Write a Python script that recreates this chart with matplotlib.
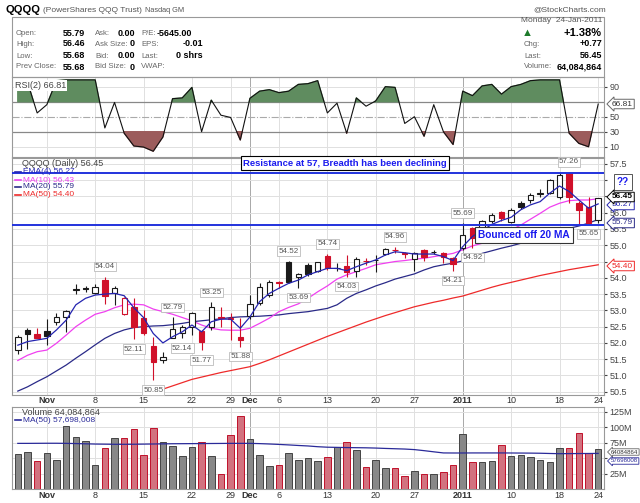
import matplotlib.pyplot as plt
import numpy as np

plt.rcParams['font.family'] = ['Liberation Sans', 'DejaVu Sans']

W, H = 640, 503


def fx(px):
    return px / W


def fy(py):
    return 1 - py / H


# ---- QQQQ daily, 27-Oct-2010 .. 24-Jan-2011 (61 sessions) ----
opens = [51.78, 52.40, 52.27, 52.37, 52.65, 52.79, 53.64, 53.70, 53.52, 53.93,
         53.52, 52.88, 53.11, 52.78, 51.92, 51.46, 52.16, 52.31, 52.50, 52.37,
         52.50, 52.80, 52.75, 52.17, 52.83, 53.22, 53.47, 53.86, 54.50, 54.01,
         54.40, 54.22, 54.67, 54.30, 54.36, 54.21, 54.52, 54.56, 54.73, 54.86,
         54.75, 54.58, 54.86, 54.80, 54.75, 54.60, 54.91, 55.52, 55.42, 55.73,
         56.01, 55.70, 56.31, 56.39, 56.58, 56.60, 56.49, 57.21, 56.31, 56.19,
         55.79]
highs = [52.25, 52.45, 52.47, 52.73, 52.91, 53.00, 53.80, 53.75, 53.80, 54.04,
         53.75, 53.42, 53.37, 53.01, 52.19, 51.73, 52.79, 52.55, 52.96, 52.40,
         53.25, 53.11, 52.91, 52.76, 53.47, 53.83, 53.93, 53.91, 54.52, 54.14,
         54.45, 54.50, 54.74, 54.45, 54.70, 54.65, 54.60, 54.70, 54.92, 54.96,
         54.80, 54.80, 54.90, 54.85, 54.80, 54.65, 55.69, 55.57, 55.78, 55.98,
         56.05, 56.15, 56.35, 56.60, 56.72, 57.03, 57.21, 57.26, 56.35, 56.48,
         56.46]
lows = [51.65, 51.81, 52.14, 51.94, 52.55, 52.34, 53.50, 53.55, 53.50, 53.19,
        53.16, 52.86, 52.11, 52.25, 50.85, 51.37, 52.16, 52.14, 52.24, 51.77,
        52.40, 52.50, 52.09, 51.88, 52.73, 53.17, 53.42, 53.68, 53.83, 53.69,
        54.05, 54.19, 54.24, 54.22, 54.03, 54.04, 54.40, 54.19, 54.70, 54.75,
        54.62, 54.21, 54.52, 54.72, 54.45, 54.21, 54.85, 54.92, 55.35, 55.69,
        55.76, 55.67, 56.12, 56.30, 56.47, 56.57, 56.43, 56.29, 55.66, 55.65,
        55.68]
closes = [52.19, 52.26, 52.16, 52.20, 52.79, 52.99, 53.66, 53.67, 53.73, 53.45,
          53.68, 53.37, 52.50, 52.30, 51.42, 51.58, 52.43, 52.48, 52.91, 52.04,
          53.11, 52.76, 52.73, 52.09, 53.20, 53.73, 53.86, 53.84, 53.87, 54.11,
          54.12, 54.48, 54.29, 54.31, 54.19, 54.57, 54.51, 54.55, 54.88, 54.85,
          54.74, 54.76, 54.63, 54.79, 54.63, 54.43, 55.30, 55.22, 55.73, 55.93,
          55.83, 56.09, 56.17, 56.55, 56.60, 56.99, 57.16, 56.49, 56.09, 55.68,
          56.45]
first_prev_close = 51.75

# volume in millions of shares
volume = [56.9, 60.6, 46.0, 59.0, 47.6, 102.8, 83.8, 77.9, 39.0, 66.6,
          82.2, 83.3, 97.9, 55.8, 99.5, 76.8, 70.3, 54.1, 68.7, 76.8,
          53.0, 24.5, 88.2, 117.8, 81.7, 55.8, 37.4, 38.4, 57.9, 47.6,
          50.9, 44.9, 52.5, 68.7, 76.8, 63.9, 36.3, 47.1, 34.7, 34.7,
          21.7, 28.7, 24.5, 24.5, 27.7, 38.4, 89.3, 43.3, 43.3, 46.0,
          71.5, 54.1, 55.8, 52.0, 47.1, 43.3, 66.0, 67.1, 90.9, 59.0,
          64.1]
vol_ma50 = [74.0, 74.0, 74.1, 74.2, 74.2, 74.0, 73.7, 73.3, 72.9, 72.7,
            72.5, 72.5, 72.6, 72.8, 73.0, 73.2, 73.4, 73.5, 73.6, 73.7,
            73.8, 73.9, 74.0, 74.0, 74.0, 73.6, 73.0, 72.3, 71.5, 70.6,
            69.8, 68.6, 67.8, 67.5, 67.2, 67.0, 66.8, 66.4, 65.8, 65.3,
            64.8, 63.9, 62.2, 60.3, 58.5, 58.4, 58.4, 58.5, 58.5, 58.5,
            58.5, 58.4, 58.3, 58.2, 58.0, 57.6, 57.3, 57.4, 57.5, 57.6,
            57.7]

ema4 = [51.93, 52.04, 52.09, 52.14, 52.40, 52.70, 53.17, 53.37, 53.47, 53.50,
        53.52, 53.45, 53.08, 52.78, 52.29, 52.00, 52.19, 52.34, 52.55, 52.34,
        52.65, 52.73, 52.73, 52.45, 52.80, 53.27, 53.52, 53.68, 53.83, 53.93,
        54.09, 54.19, 54.29, 54.29, 54.22, 54.34, 54.45, 54.55, 54.70, 54.80,
        54.77, 54.73, 54.73, 54.73, 54.65, 54.53, 54.96, 55.27, 55.45, 55.64,
        55.76, 55.86, 56.09, 56.24, 56.34, 56.60, 56.82, 56.65, 56.39, 56.14,
        56.27]
ma10 = [51.46, 51.62, 51.73, 51.78, 51.99, 52.24, 52.50, 52.70, 52.88, 52.96,
        53.08, 53.17, 53.19, 53.17, 53.04, 52.96, 52.88, 52.78, 52.68, 52.55,
        52.45, 52.40, 52.39, 52.39, 52.45, 52.60, 52.76, 52.96, 53.09, 53.20,
        53.37, 53.57, 53.75, 53.96, 54.09, 54.19, 54.29, 54.40, 54.45, 54.50,
        54.53, 54.57, 54.60, 54.65, 54.70, 54.75, 54.86, 54.98, 55.06, 55.18,
        55.32, 55.47, 55.62, 55.80, 55.98, 56.17, 56.29, 56.37, 56.39, 56.39,
        56.43]
ma20 = [50.52, 50.65, 50.81, 50.96, 51.14, 51.32, 51.53, 51.73, 51.94, 52.14,
        52.29, 52.40, 52.47, 52.50, 52.52, 52.53, 52.56, 52.60, 52.65, 52.68,
        52.71, 52.74, 52.78, 52.80, 52.81, 52.82, 52.84, 52.86, 52.90, 52.93,
        52.96, 53.01, 53.06, 53.17, 53.37, 53.52, 53.63, 53.75, 53.85, 53.96,
        54.04, 54.12, 54.24, 54.34, 54.40, 54.45, 54.52, 54.63, 54.75, 54.83,
        54.91, 54.98, 55.06, 55.14, 55.22, 55.32, 55.42, 55.52, 55.59, 55.68,
        55.79]
ma50 = [np.nan] * 13 + [
        50.40, 50.48, 50.58, 50.68, 50.78, 50.88, 50.95, 51.02, 51.09, 51.15,
        51.21, 51.27, 51.37, 51.48, 51.60, 51.72, 51.84, 51.96, 52.08, 52.20,
        52.31, 52.42, 52.53, 52.64, 52.74, 52.84, 52.93, 53.02, 53.11, 53.18,
        53.25, 53.31, 53.38, 53.44, 53.53, 53.62, 53.71, 53.79, 53.86, 53.93,
        54.00, 54.07, 54.13, 54.19, 54.25, 54.30, 54.35, 54.40]

rsi2 = [93, 96, 55, 66, 98, 99, 99, 99, 99, 35,
        69, 28, 11, 9.6, 4, 23, 74, 75, 89, 30,
        72, 52, 49, 19, 74.5, 84, 86, 82, 84, 93,
        94, 98, 55, 68, 28, 75, 64, 71, 90, 89,
        41, 50, 24, 66, 30, 13, 84, 78, 91, 93,
        80, 90, 93, 98, 99, 99, 99, 28, 14.5, 10,
        66.81]

tick_idx = [3, 8, 13, 18, 22, 24, 27, 32, 37, 41, 46, 51, 56, 60]
tick_labels = ['Nov', '8', '15', '22', '29', 'Dec', '6', '13', '20', '27',
               '2011', '10', '18', '24']
bold_ticks = ['Nov', 'Dec', '2011']
dark_grid_idx = [24, 46]

# swing high / low labels: bar index, value, side
swing_idx = [9, 12, 14, 16, 17, 19, 20, 23, 28, 29, 32, 34, 39, 45, 46, 47, 57, 59]
swing_val = [54.04, 52.11, 50.85, 52.79, 52.14, 51.77, 53.25, 51.88, 54.52, 53.69,
             54.74, 54.03, 54.96, 54.21, 55.69, 54.92, 57.26, 55.65]
swing_side = ['up', 'dn', 'dn', 'up', 'dn', 'dn', 'up', 'dn', 'up', 'dn',
              'up', 'dn', 'up', 'dn', 'up', 'dn', 'up', 'dn']

resistance_level = 57.22
support_level = 55.61

RED = '#d0102a'
BLACK = '#1a1a1a'
GRID = '#e0e0e0'
XLIM = (-0.6, 60.6)

x = np.arange(len(closes))
prev = [first_prev_close] + closes[:-1]
bar_colors = [BLACK if c >= p else RED for c, p in zip(closes, prev)]

fig = plt.figure(figsize=(6.4, 5.03), dpi=100)

ax_rsi = fig.add_axes([fx(12), fy(157), 592 / W, 80 / H])
ax = fig.add_axes([fx(12), fy(395), 592 / W, 237 / H])
ax_vol = fig.add_axes([fx(12), fy(489), 592 / W, 82 / H])

for a in (ax_rsi, ax, ax_vol):
    a.set_xlim(*XLIM)
    for s in a.spines.values():
        s.set_color('#999999')
        s.set_linewidth(0.8)
    for i in tick_idx:
        c = '#a8a8a8' if i in dark_grid_idx else GRID
        a.axvline(i, color=c, lw=0.7, zorder=0)
    a.yaxis.tick_right()
    a.tick_params(axis='y', labelsize=6.5, colors='#444444', length=2, pad=2)
    a.tick_params(axis='x', length=0)

# ---- header ----
fig.text(fx(6), fy(10), 'QQQQ', fontsize=8, fontweight='bold', va='center')
fig.text(fx(43), fy(10), '(PowerShares QQQ Trust)', fontsize=6, color='#555555', va='center')
fig.text(fx(145), fy(10), 'Nasdaq GM', fontsize=5.3, color='#555555', va='center')
fig.text(fx(606), fy(10), '@StockCharts.com', fontsize=6, color='#555555', va='center', ha='right')
fig.patches.append(plt.Rectangle((fx(12), fy(77)), 592 / W, 60 / H, transform=fig.transFigure,
                                 fill=False, ec='#999999', lw=0.8))

row_y = [33, 44, 56, 67]
lab1 = ['Open:', 'High:', 'Low:', 'Prev Close:']
val1 = ['55.79', '56.46', '55.68', '55.68']
lab2 = ['Ask:', 'Ask Size:', 'Bid:', 'Bid Size:']
val2 = ['0.00', '0', '0.00', '0']
lab3 = ['P/E:', 'EPS:', 'Last:', 'VWAP:']
val3 = ['-5645.00', '-0.01', '0 shrs', '']
for k, yy in enumerate(row_y):
    fig.text(fx(16), fy(yy), lab1[k], fontsize=5.6, color='#666666', va='center')
    fig.text(fx(85), fy(yy), val1[k], fontsize=6.5, fontweight='bold', va='center', ha='right')
    fig.text(fx(95), fy(yy), lab2[k], fontsize=5.6, color='#666666', va='center')
    fig.text(fx(135), fy(yy), val2[k], fontsize=6.5, fontweight='bold', va='center', ha='right')
    fig.text(fx(141), fy(yy), lab3[k], fontsize=5.6, color='#666666', va='center')
    if k == 0:
        fig.text(fx(157), fy(yy), val3[k], fontsize=6.5, fontweight='bold', va='center')
    else:
        fig.text(fx(203), fy(yy), val3[k], fontsize=6.5, fontweight='bold', va='center', ha='right')

fig.text(fx(602), fy(21), 'Monday  24-Jan-2011', fontsize=6, color='#555555', va='center', ha='right')
fig.text(fx(527), fy(33), '\u25b2', fontsize=8, color='#1d7a2a', va='center', ha='center')
fig.text(fx(602), fy(33), '+1.38%', fontsize=8, fontweight='bold', va='center', ha='right')
right_lab = ['Chg:', 'Last:', 'Volume:']
right_val = ['+0.77', '56.45', '64,084,864']
for k, yy in enumerate([44, 56, 67]):
    fig.text(fx(524), fy(yy), right_lab[k], fontsize=5.6, color='#666666', va='center')
    fig.text(fx(602), fy(yy), right_val[k], fontsize=6.5, fontweight='bold', va='center', ha='right')

# ---- RSI panel ----
rsi = np.array(rsi2, dtype=float)
ax_rsi.set_ylim(-3.7, 102.9)
ax_rsi.set_xticks([])
ax_rsi.set_yticks([10, 30, 50, 90])
for lvl in (10, 90):
    ax_rsi.axhline(lvl, color=GRID, lw=0.7, zorder=0)
ax_rsi.axhline(70, color='#888888', lw=0.9, zorder=1)
ax_rsi.axhline(30, color='#888888', lw=0.9, zorder=1)
ax_rsi.axhline(50, color='#aaaaaa', lw=0.8, ls='-.', zorder=1)
ax_rsi.fill_between(x, rsi, 70, where=rsi >= 70, interpolate=True, color='#5f8c5f', zorder=2)
ax_rsi.fill_between(x, rsi, 30, where=rsi <= 30, interpolate=True, color='#9c5c5c', zorder=2)
ax_rsi.plot(x, rsi, color='#111111', lw=0.8, zorder=3)
ax_rsi.text(0.005, 0.955, 'RSI(2) 66.81', transform=ax_rsi.transAxes, fontsize=6.5,
            color='#444444', va='top', bbox=dict(boxstyle='square,pad=0.1', fc='white', ec='none'))
fig.text(fx(612), fy(104), '66.81', fontsize=6, color='#333333', va='center',
         bbox=dict(boxstyle='larrow,pad=0.15', fc='white', ec='#666666', lw=0.7))

# ---- price panel ----
ax.set_ylim(50.40, 57.68)
yt = np.arange(50.5, 57.51, 0.5)
ax.set_yticks(yt)
# labels under the price tags are left blank, as the tags hide them
hidden = ['57.0', '56.5', '54.5']
ax.set_yticklabels(['' if '%.1f' % v in hidden else '%.1f' % v for v in yt])
for v in yt:
    ax.axhline(v, color=GRID, lw=0.7, zorder=0)

for i in range(len(closes)):
    o, h, l, c = opens[i], highs[i], lows[i], closes[i]
    col = bar_colors[i]
    ax.vlines(i, l, h, color=col, lw=0.8, zorder=3)
    face = 'white' if c > o else col
    ax.bar(i, max(abs(c - o), 0.012), bottom=min(o, c), width=0.56,
           color=face, edgecolor=col, lw=0.8, zorder=4)

ax.plot(x, ma50, color='#ee2a2a', lw=0.9, zorder=2)
ax.plot(x, ma20, color='#2a2a88', lw=0.9, zorder=2)
ax.plot(x, ma10, color='#f040f0', lw=0.9, zorder=2)
ax.plot(x, ema4, color='#2424b0', lw=0.9, zorder=5)

ax.axhline(resistance_level, color='#2233dd', lw=1.4, zorder=6)
ax.axhline(support_level, color='#2233dd', lw=1.4, zorder=6)

for i, v, side in zip(swing_idx, swing_val, swing_side):
    dy = 7 if side == 'up' else -7
    ax.annotate('%.2f' % v, (i, v), xytext=(0, dy), textcoords='offset points',
                ha='center', va='center', fontsize=5.8, color='#555555', zorder=7,
                bbox=dict(boxstyle='square,pad=0.15', fc='white', ec='#bbbbbb', lw=0.6))

ax.set_xticks(tick_idx)
ax.set_xticklabels(tick_labels, fontsize=6.5, color='#333333')
ax.tick_params(axis='x', pad=1)
for t in ax.get_xticklabels():
    if t.get_text() in bold_ticks:
        t.set_fontweight('bold')

# legend lines in the price panel
fig.text(fx(22), fy(164), 'QQQQ (Daily) 56.45', fontsize=6.5, color='#444444', va='center')
legend_y = [172, 180, 187, 195]
legend_txt = ['EMA(4) 56.27', 'MA(10) 56.43', 'MA(20) 55.79', 'MA(50) 54.40']
legend_col = ['#2424b0', '#f040f0', '#2a2a88', '#ee2a2a']
for yy, t, c in zip(legend_y, legend_txt, legend_col):
    fig.lines.append(plt.Line2D([fx(15), fx(21)], [fy(yy), fy(yy)], transform=fig.transFigure,
                                color=c, lw=1.2))
    fig.text(fx(23), fy(yy), t, fontsize=6, color=c, va='center')

fig.text(fx(345), fy(163), 'Resistance at 57, Breadth has been declining', fontsize=6.8,
         fontweight='bold', color='#1a1aee', ha='center', va='center',
         bbox=dict(boxstyle='square,pad=0.25', fc='white', ec='black', lw=0.8))
fig.text(fx(524), fy(235), 'Bounced off 20 MA', fontsize=7.3, fontweight='bold',
         color='#1a1aee', ha='center', va='center',
         bbox=dict(boxstyle='square,pad=0.3', fc='white', ec='#333333', lw=0.8))

# price tags on the right edge
fig.text(fx(617), fy(182), '??', fontsize=7, fontweight='bold', color='#1a1aee', va='center',
         bbox=dict(boxstyle='square,pad=0.3', fc='white', ec='#555555', lw=0.7))
fig.text(fx(612), fy(205), '56.27', fontsize=6, color='#2424b0', va='center',
         bbox=dict(boxstyle='larrow,pad=0.15', fc='white', ec='#2424b0', lw=0.7))
fig.text(fx(612), fy(197), '56.45', fontsize=6, fontweight='bold', color='black', va='center',
         bbox=dict(boxstyle='larrow,pad=0.15', fc='white', ec='black', lw=0.7))
fig.text(fx(612), fy(223), '55.79', fontsize=6, color='#2a2a88', va='center',
         bbox=dict(boxstyle='larrow,pad=0.15', fc='white', ec='#2a2a88', lw=0.7))
fig.text(fx(612), fy(266), '54.40', fontsize=6, color='#ee2a2a', va='center',
         bbox=dict(boxstyle='larrow,pad=0.15', fc='white', ec='#ee2a2a', lw=0.7))

# ---- volume panel ----
ax_vol.set_ylim(0, 133)
ax_vol.set_yticks([25, 50, 75, 100, 125])
ax_vol.set_yticklabels(['25M', '', '75M', '100M', '125M'])
for v in [25, 50, 75, 100, 125]:
    ax_vol.axhline(v, color=GRID, lw=0.7, zorder=0)
vol_face = ['#888888' if c == BLACK else '#d2727f' for c in bar_colors]
vol_edge = ['#444444' if c == BLACK else '#c0102a' for c in bar_colors]
ax_vol.bar(x, volume, width=0.68, color=vol_face, edgecolor=vol_edge, lw=0.7, zorder=2)
ax_vol.plot(x, vol_ma50, color='#2a2a99', lw=0.9, zorder=3)
ax_vol.set_xticks(tick_idx)
ax_vol.set_xticklabels(tick_labels, fontsize=6.5, color='#333333')
ax_vol.tick_params(axis='x', pad=1.5)
for t in ax_vol.get_xticklabels():
    if t.get_text() in bold_ticks:
        t.set_fontweight('bold')

fig.text(fx(22), fy(412), 'Volume 64,084,864', fontsize=6.5, color='#444444', va='center')
fig.lines.append(plt.Line2D([fx(15), fx(21)], [fy(420), fy(420)], transform=fig.transFigure,
                            color='#2a2a99', lw=1.2))
fig.text(fx(23), fy(420), 'MA(50) 57,698,008', fontsize=6, color='#2a2a99', va='center')
fig.text(fx(611), fy(461), '57698008', fontsize=4.4, color='#2a2a99', va='center',
         bbox=dict(boxstyle='larrow,pad=0.12', fc='white', ec='#2a2a99', lw=0.6))
fig.text(fx(611), fy(452), '64084864', fontsize=4.4, color='#333333', va='center',
         bbox=dict(boxstyle='larrow,pad=0.12', fc='white', ec='#666666', lw=0.6))

fig.savefig('out.png', dpi=100)
